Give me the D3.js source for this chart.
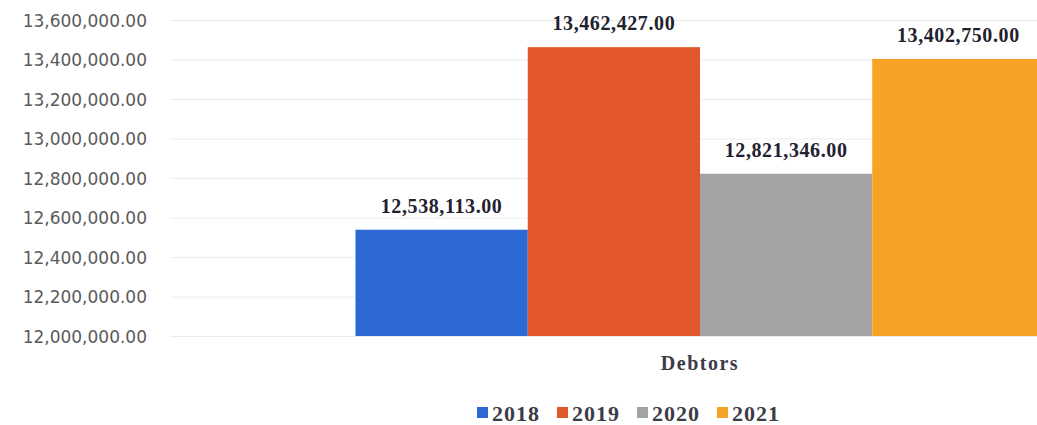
<!DOCTYPE html>
<html>
<head>
<meta charset="utf-8">
<script src="https://cdn.jsdelivr.net/npm/d3@7"></script>
<style>
  html, body { margin: 0; padding: 0; background: #ffffff; }
  svg { display: block; }
</style>
</head>
<body>
<svg id="chart" width="1037" height="425"></svg>
<script>
// Debtors by year
const categories = ["Debtors"];
const years = ["2018", "2019", "2020", "2021"];
const debtors = [12538113, 13462427, 12821346, 13402750];
const yTicks = [12000000, 12200000, 12400000, 12600000, 12800000, 13000000, 13200000, 13400000, 13600000];
const colors = ["#2c69d5", "#e1562a", "#a3a3a3", "#f6a327"];

const svg = d3.select("#chart");
const W = 1037, H = 425;

const plot = { left: 165, right: 1235, top: 20, bottom: 336 };

const y = d3.scaleLinear()
  .domain([12000000, 13600000])
  .range([plot.bottom, plot.top]);

const x0 = d3.scaleBand()
  .domain(categories)
  .range([plot.left, plot.right])
  .paddingInner(0)
  .paddingOuter(0.2765);

const x1 = d3.scaleBand()
  .domain(years)
  .range([0, x0.bandwidth()])
  .padding(0);

const fmt = d3.format(",.2f");

// horizontal gridlines
svg.append("g")
  .selectAll("line")
  .data(yTicks)
  .join("line")
  .attr("x1", plot.left + 5)
  .attr("x2", W)
  .attr("y1", d => y(d) + 0.5)
  .attr("y2", d => y(d) + 0.5)
  .attr("stroke", "#ececec")
  .attr("stroke-width", 1);

// y axis labels
const yAxis = d3.axisLeft(y)
  .tickValues(yTicks)
  .tickFormat(fmt)
  .tickSize(0)
  .tickPadding(0);

const yg = svg.append("g")
  .attr("transform", "translate(147,0)")
  .call(yAxis);
yg.select(".domain").remove();
yg.selectAll("text")
  .attr("font-family", "DejaVu Sans, sans-serif")
  .attr("font-size", 17)
  .attr("fill", "#5a5a5a")
  .attr("dy", "0.36em");

// bars
const group = svg.append("g")
  .selectAll("g")
  .data(categories)
  .join("g")
  .attr("transform", d => `translate(${x0(d)},0)`);

const rows = years.map((yr, i) => ({ year: yr, value: debtors[i], color: colors[i] }));

group.selectAll("rect")
  .data(rows)
  .join("rect")
  .attr("x", d => x1(d.year))
  .attr("y", d => y(d.value))
  .attr("width", x1.bandwidth())
  .attr("height", d => y(12000000) - y(d.value))
  .attr("fill", d => d.color);

// value labels
group.selectAll("text.val")
  .data(rows)
  .join("text")
  .attr("class", "val")
  .attr("x", d => x1(d.year) + x1.bandwidth() / 2)
  .attr("y", d => y(d.value) - 17)
  .attr("text-anchor", "middle")
  .attr("font-family", "Liberation Serif, Times New Roman, serif")
  .attr("font-weight", "bold")
  .attr("font-size", 20)
  .attr("letter-spacing", "0.6px")
  .attr("fill", "#22222e")
  .text(d => fmt(d.value));

// category label
svg.append("g")
  .selectAll("text")
  .data(categories)
  .join("text")
  .attr("x", d => x0(d) + x0.bandwidth() / 2)
  .attr("y", 370)
  .attr("text-anchor", "middle")
  .attr("font-family", "Liberation Serif, Times New Roman, serif")
  .attr("font-weight", "bold")
  .attr("font-size", 20)
  .attr("letter-spacing", "1.5px")
  .attr("fill", "#3a3a48")
  .text(d => d);

// legend
const legend = svg.append("g")
  .selectAll("g")
  .data(rows)
  .join("g")
  .attr("transform", (d, i) => `translate(${477 + i * 80},0)`);

legend.append("rect")
  .attr("x", 0)
  .attr("y", 407)
  .attr("width", 11)
  .attr("height", 11)
  .attr("fill", d => d.color);

legend.append("text")
  .attr("x", 15)
  .attr("y", 421)
  .attr("font-family", "Liberation Serif, Times New Roman, serif")
  .attr("font-weight", "bold")
  .attr("font-size", 22)
  .attr("letter-spacing", "1px")
  .attr("fill", "#3c3c44")
  .text(d => d.year);
</script>
</body>
</html>
